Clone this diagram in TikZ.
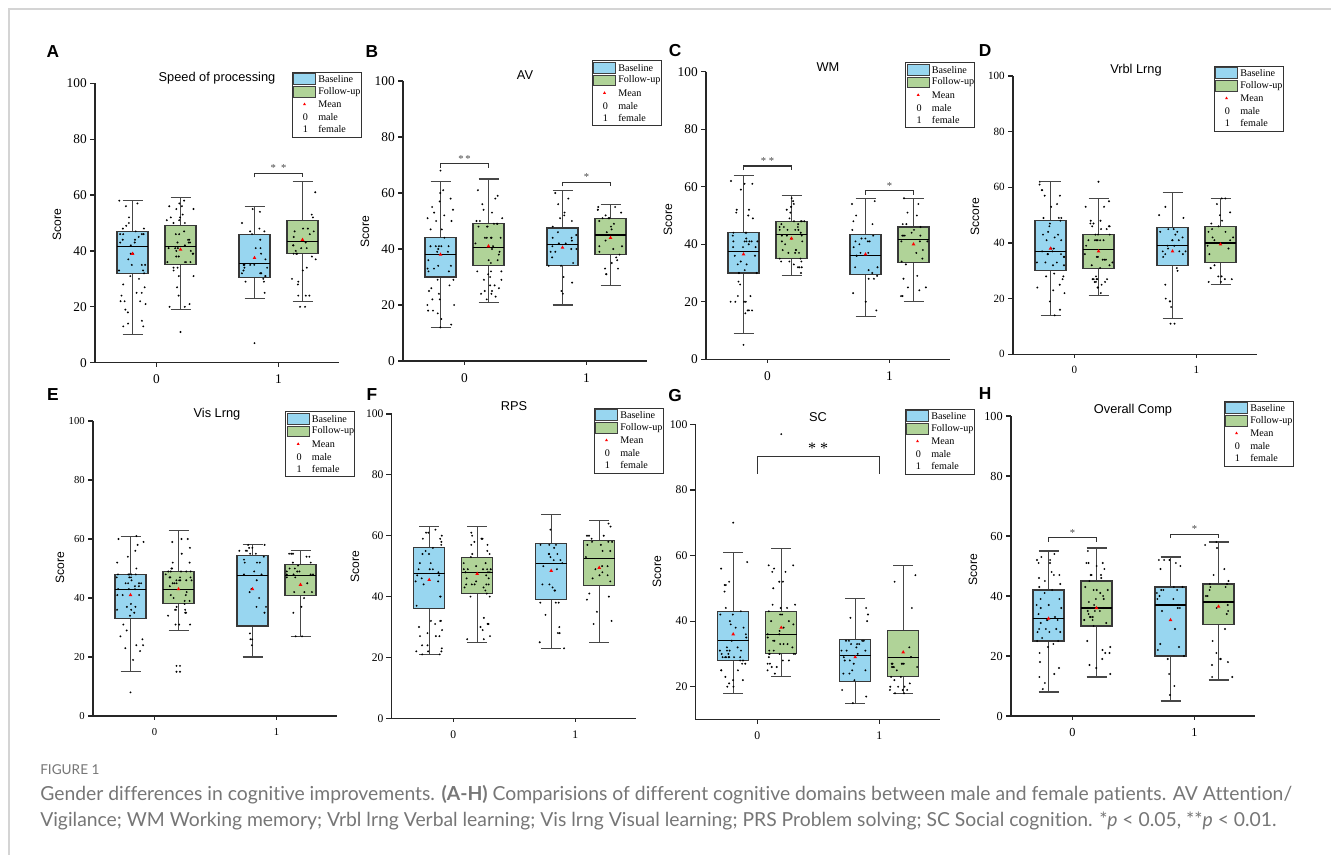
\documentclass[tikz,border=0pt]{standalone}
\usepackage{fontspec}
\setmainfont{Liberation Serif}
\setsansfont{Liberation Sans}
\newfontfamily\capfont[Ligatures={NoCommon}]{Lato}
\usetikzlibrary{shapes.geometric}
\definecolor{bxblue}{RGB}{152,214,240}
\definecolor{bxgreen}{RGB}{176,211,152}
\definecolor{capgrey}{RGB}{118,118,118}
\definecolor{framegrey}{RGB}{212,212,212}
\newcommand{\fsz}[1]{\fontsize{#1pt}{#1pt}\selectfont}
\tikzset{
  whisk/.style={draw=black!72, line width=0.8pt},
  boxline/.style={draw=black!78, line width=0.8pt},
  medline/.style={draw=black, line width=0.8pt},
  axisline/.style={draw=black!85, line width=0.9pt},
  meanmk/.style={regular polygon, regular polygon sides=3, fill=red, draw=none, inner sep=0pt, minimum size=3.2pt},
  ptitle/.style={font=\sffamily\fsz{9.6}},
  pletter/.style={font=\sffamily\bfseries\fsz{13}},
  scorelbl/.style={font=\sffamily\fsz{9.1}, rotate=90},
  lgdtext/.style={anchor=west, inner sep=0pt, font=\fsz{7.6}},
  startxt/.style={font=\fsz{8}, text=black!70, inner sep=1pt, anchor=south},
}
% box plot: #1 x, #2 min, #3 q1, #4 median, #5 q3, #6 max, #7 mean, #8 colour, #9 n points
\newcommand{\bxp}[9]{%
  \draw[whisk] (#1,#2) -- (#1,#6);
  \draw[whisk] (#1-10,#2) -- (#1+10,#2) (#1-10,#6) -- (#1+10,#6);
  \filldraw[fill=#8, boxline] (#1-15.5,#3) rectangle (#1+15.5,#5);
  \draw[medline] (#1-15.5,#4) -- (#1+15.5,#4);
  \foreach \i in {1,...,#9}{%
    \pgfmathsetmacro\uu{rnd}%
    \pgfmathsetmacro\vv{rnd}%
    \pgfmathsetmacro\yy{round(\uu<0.25 ? #2+(#3-#2)*\vv : (\uu<0.5 ? #3+(#4-#3)*\vv : (\uu<0.75 ? #4+(#5-#4)*\vv : #5+(#6-#5)*\vv)))}%
    \pgfmathsetmacro\xx{#1+(rnd-0.5)*28}%
    \fill (\xx,\yy) circle[radius=0.8pt];
  }
  \node[meanmk] at (#1,#7) {};
}
\newcommand{\od}[2]{\fill (#1,#2) circle[radius=0.8pt];}
% axes: #1 bottom score, #2 ticks, #3 font size
\newcommand{\axes}[3]{%
  \draw[axisline] (0,100) -- (0,#1) -- (244,#1);
  \foreach \t in {#2}{%
    \draw[axisline] (0,\t) -- ++(-4pt,0pt);
    \node[anchor=east, inner sep=0pt, font=\fsz{#3}] at ([xshift=-6pt]0,\t) {\t};}
  \foreach \t/\l in {61.5/0,183.5/1}{%
    \draw[axisline] (\t,#1) -- ++(0pt,-3pt);
    \node[anchor=north, inner sep=0pt, font=\fsz{#3}] at ([yshift=-9pt]\t,#1) {\l};}
}
% significance bracket: #1 x1, #2 x2, #3 y, #4 text
\newcommand{\sigbr}[4]{%
  \draw[black!80, line width=0.8pt] (#1,#3) ++(0pt,-3pt) -- ++(0pt,3pt) -- (#2,#3) -- ++(0pt,-3pt);
  \node[startxt] at ({(#1+#2)/2},#3) {#4};
}
% legend: top-left corner in pixels
\newcommand{\lgd}[2]{%
  \begin{scope}[shift={(#1,#2)}]
    \draw[black!80, line width=0.6pt] (0,0) rectangle (69,65);
    \filldraw[fill=bxblue, draw=black!75, line width=0.6pt] (1.5,1.5) rectangle (23.5,12.5);
    \filldraw[fill=bxgreen, draw=black!75, line width=0.6pt] (1.5,14.5) rectangle (23.5,25);
    \node[meanmk, minimum size=2.6pt] at (12.5,32.3) {};
    \node[inner sep=0pt, font=\fsz{7.6}] at (13.5,45.3) {0};
    \node[inner sep=0pt, font=\fsz{7.6}] at (13.5,57.3) {1};
    \node[lgdtext] at (26,7.3) {Baseline};
    \node[lgdtext] at (26,19.7) {Follow-up};
    \node[lgdtext] at (26,32.3) {Mean};
    \node[lgdtext] at (26,45.3) {male};
    \node[lgdtext] at (26,57.3) {female};
  \end{scope}
}
\begin{document}
\begin{tikzpicture}[x=0.75pt,y=-0.75pt]
\useasboundingbox (0,0) rectangle (1331,855);
\fill[white] (0,0) rectangle (1331,855);
\draw[framegrey, line width=0.8pt] (9,855) -- (9,9) -- (1331,9);
\pgfmathsetseed{7}

% ---------- A ----------
\node[pletter] (LA) at (53,52) {A};
\node[ptitle] (TA) at (217,78) {Speed of processing};
\node[scorelbl] (SA) at (57,225) {Score};
\begin{scope}[shift={(95,362.7)}, x=0.75pt, y=2.0955pt]
  \axes{0}{0,20,...,100}{10}
  \bxp{37.5}{10}{32}{41.5}{47}{58}{39}{bxblue}{45}
  \bxp{85.5}{19}{35}{41.5}{49}{59}{40.5}{bxgreen}{45}
  \bxp{159.5}{23}{30.5}{35.5}{46}{56}{37.5}{bxblue}{28}
  \bxp{207.5}{22}{39}{43.5}{51}{65}{44}{bxgreen}{28}
  \od{85.5}{11}\od{159.5}{7}\od{205}{20}\od{210}{20}
  \sigbr{159.5}{207.5}{67.8}{*\ \ *}
\end{scope}
\lgd{292}{72}

% ---------- B ----------
\node[pletter] (LB) at (372,52) {B};
\node[ptitle] (TB) at (525,75) {AV};
\node[scorelbl] (SB) at (365,232) {Score};
\begin{scope}[shift={(403,361)}, x=0.75pt, y=2.1pt]
  \axes{0}{0,20,...,100}{10}
  \bxp{37.5}{12}{30}{38}{44}{64}{38}{bxblue}{45}
  \bxp{85.5}{21}{34}{40.5}{49}{65}{41}{bxgreen}{45}
  \bxp{159.5}{20}{34}{41.5}{47.5}{61}{40.5}{bxblue}{28}
  \bxp{207.5}{27}{38}{45}{51}{56}{44}{bxgreen}{28}
  \od{37.5}{68}
  \sigbr{37.5}{85.5}{70.4}{*\,*}
  \sigbr{159.5}{207.5}{63.8}{*}
\end{scope}
\lgd{592}{60.7}

% ---------- C ----------
\node[pletter] (LC) at (675,51) {C};
\node[ptitle] (TC) at (828,67) {WM};
\node[scorelbl] (SC) at (668,220) {Score};
\begin{scope}[shift={(706,359.3)}, x=0.75pt, y=2.157pt]
  \axes{0}{0,20,...,100}{10}
  \bxp{37.5}{9}{30}{37.5}{44}{64}{36.5}{bxblue}{45}
  \bxp{85.5}{29}{35}{43.5}{48}{57}{42}{bxgreen}{45}
  \bxp{159.5}{15}{29.5}{36}{43.5}{56}{36.5}{bxblue}{28}
  \bxp{207.5}{20}{33.5}{41.5}{46}{56}{40}{bxgreen}{28}
  \od{37.5}{5}
  \sigbr{37.5}{85.5}{67.2}{*\ *}
  \sigbr{159.5}{207.5}{58.6}{*}
\end{scope}
\lgd{905.7}{62.7}

% ---------- D ----------
\node[pletter] (LD) at (985,51) {D};
\node[ptitle] (TD) at (1136,70) {Vrbl Lrng};
\node[scorelbl] (SD) at (975,217) {Sccore};
\begin{scope}[shift={(1013,354.3)}, x=0.75pt, y=2.087pt]
  \axes{0}{0,20,...,100}{8.3}
  \bxp{37.5}{14}{30}{37}{48}{62}{38}{bxblue}{45}
  \bxp{85.5}{21}{31}{37.5}{43}{56}{37}{bxgreen}{45}
  \bxp{159.5}{13}{32}{39}{45.5}{58}{37}{bxblue}{28}
  \bxp{207.5}{25}{33}{40}{46}{56}{39.5}{bxgreen}{28}
  \od{85.5}{62}\od{157.5}{11}\od{161.5}{11}
\end{scope}
\lgd{1214}{66}

% ---------- E ----------
\node[pletter] (LE) at (53,395) {E};
\node[ptitle] (TE) at (217,414) {Vis Lrng};
\node[scorelbl] (SE) at (60,568) {Score};
\begin{scope}[shift={(93,716)}, x=0.75pt, y=2.2125pt]
  \axes{0}{0,20,...,100}{8}
  \bxp{37.5}{15}{33}{43}{48}{61}{41}{bxblue}{45}
  \bxp{85.5}{29}{38}{43}{49}{63}{43}{bxgreen}{45}
  \bxp{159.5}{20}{30.5}{47.5}{54.5}{58}{43}{bxblue}{28}
  \bxp{207.5}{27}{41}{47.5}{51.5}{56}{44.5}{bxgreen}{28}
  \od{37.5}{8}\od{83.5}{15}\od{83.5}{17}\od{87}{15}\od{87}{17}
\end{scope}
\lgd{285.7}{411.7}

% ---------- F ----------
\node[pletter] (LF) at (372,395) {F};
\node[ptitle] (TF) at (514,406) {RPS};
\node[scorelbl] (SF) at (355,567) {Score};
\begin{scope}[shift={(391.7,718.3)}, x=0.75pt, y=2.282pt]
  \axes{0}{0,20,...,100}{8.7}
  \bxp{37.5}{21}{36}{47.5}{56}{63}{45.5}{bxblue}{45}
  \bxp{85.5}{25}{41}{48}{53}{63}{47.5}{bxgreen}{45}
  \bxp{159.5}{23}{39}{51}{57.5}{67}{48.5}{bxblue}{28}
  \bxp{207.5}{25}{43.5}{52.5}{58.5}{65}{49.5}{bxgreen}{28}
\end{scope}
\lgd{594}{408}

% ---------- G ----------
\node[pletter] (LG) at (675,396) {G};
\node[ptitle] (TG) at (818,417) {SC};
\node[scorelbl] (SG) at (657,572) {Score};
\begin{scope}[shift={(695.7,752.3)}, x=0.75pt, y=2.46pt]
  \axes{10}{20,40,...,100}{8.8}
  \bxp{37.5}{18}{28}{34}{43}{61}{36}{bxblue}{45}
  \bxp{85.5}{23}{30}{36}{43}{62}{38}{bxgreen}{45}
  \bxp{159.5}{15}{21.5}{29.5}{34.5}{47}{29}{bxblue}{28}
  \bxp{207.5}{18}{23}{29}{37}{57}{30.5}{bxgreen}{28}
  \od{37.5}{70}\od{85.5}{97}
  \draw[black!80, line width=0.8pt] (61.5,85) -- (61.5,90.1) -- (183.5,90.1) -- (183.5,85);
  \node[font=\fsz{12}, inner sep=1pt, anchor=south] (GS) at (122.5,90.6) {*\ *};
\end{scope}
\lgd{905}{409}

% ---------- H ----------
\node[pletter] (LH) at (985,394) {H};
\node[ptitle] (TH) at (1133,410) {Overall Comp};
\node[scorelbl] (SH) at (973,570) {Score};
\begin{scope}[shift={(1011,716)}, x=0.75pt, y=2.25pt]
  \axes{0}{0,20,...,100}{9.2}
  \bxp{37.5}{8}{25}{32.5}{42}{55}{32.5}{bxblue}{45}
  \bxp{85.5}{13}{30}{36}{45}{56}{36}{bxgreen}{45}
  \bxp{159.5}{5}{20}{37}{43}{53}{32}{bxblue}{28}
  \bxp{207.5}{12}{30.5}{38}{44}{58}{36.5}{bxgreen}{28}
  \sigbr{37.5}{85.5}{59.4}{*}
  \sigbr{159.5}{207.5}{60.6}{*}
\end{scope}
\lgd{1224}{401}

% ---------- caption ----------
\node[anchor=base west, inner sep=0pt, font=\capfont\fsz{10.2}, text=capgrey] (FIG) at (40,774) {FIGURE 1};
\node[anchor=base west, inner sep=0pt, font=\capfont\fsz{14.5}, text=capgrey] (CAP1) at (40,800)
  {Gender differences in cognitive improvements. \textbf{(A-H)} Comparisions of different cognitive domains between male and female patients. AV Attention/};
\node[anchor=base west, inner sep=0pt, font=\capfont\fsz{14.5}, text=capgrey] (CAP2) at (40,826)
  {Vigilance; WM Working memory; Vrbl lrng Verbal learning; Vis lrng Visual learning; PRS Problem solving; SC Social cognition. *\textit{p} < 0.05, **\textit{p} < 0.01.};
\end{tikzpicture}
\end{document}
